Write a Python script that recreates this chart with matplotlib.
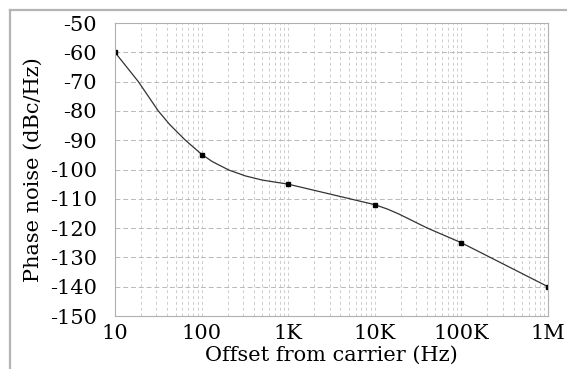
import matplotlib
matplotlib.use("Agg")
import matplotlib.pyplot as plt
from matplotlib.lines import Line2D
from matplotlib.ticker import FixedLocator, LogLocator, NullFormatter

plt.rcParams["font.family"] = ["DejaVu Serif"]

# ====== 数据 ======
# 标注点（方块）
offset_hz = [10, 100, 1e3, 1e4, 1e5, 1e6]
noise_dbc = [-60, -95, -105, -112, -125, -140]

# 曲线走向
curve_hz = [10, 18.6, 31.6, 43, 65, 100, 133, 207, 322, 502, 1e3,
            1e4, 1.4e4, 1.9e4, 4.05e4, 1e5, 1e6]
curve_dbc = [-60, -70, -80, -84.7, -90, -94.8, -97.3, -100.2, -102.2, -103.6, -105,
             -112, -113.5, -115.2, -120, -125, -140]

x_ticks = [10, 100, 1e3, 1e4, 1e5, 1e6]
x_labels = ["10", "100", "1K", "10K", "100K", "1M"]
y_ticks = list(range(-150, -49, 10))

fig = plt.figure(figsize=(5.67, 3.69), dpi=100)
ax = fig.add_axes([0.2028, 0.1436, 0.7637, 0.7940])

ax.plot(curve_hz, curve_dbc, color="#333333", linewidth=0.9)
ax.plot(offset_hz, noise_dbc, linestyle="none", marker="s", markersize=3,
        color="black")

ax.set_xscale("log")
ax.set_xlim(10, 1e6)
ax.set_ylim(-150, -50)

ax.xaxis.set_major_locator(FixedLocator(x_ticks))
ax.set_xticklabels(x_labels)
ax.xaxis.set_minor_locator(LogLocator(base=10, subs=range(2, 10), numticks=20))
ax.xaxis.set_minor_formatter(NullFormatter())
ax.set_yticks(y_ticks)
ax.set_yticklabels([str(v) for v in y_ticks])

ax.tick_params(axis="both", which="both", length=0, labelsize=15)
ax.tick_params(axis="y", pad=13)
ax.tick_params(axis="x", pad=6)

ax.grid(True, which="both", axis="x", linestyle=(0, (3, 3)), color="#cccccc",
        linewidth=0.7)
ax.grid(True, which="major", axis="y", linestyle=(0, (5, 3)), color="#b8b8b8",
        linewidth=0.7)
ax.set_axisbelow(True)
for s in ax.spines.values():
    s.set_color("#b0b0b0")
    s.set_linewidth(0.8)

ax.set_ylabel("Phase noise (dBc/Hz)", fontsize=15, labelpad=5)
ax.set_xlabel("Offset from carrier (Hz)", fontsize=15, labelpad=2)

# 扫描图外框（上、左）
fig.add_artist(Line2D([10 / 567, 1], [1 - 10 / 369, 1 - 10 / 369],
                      transform=fig.transFigure, color="#b4b4b4", linewidth=1.6))
fig.add_artist(Line2D([10 / 567, 10 / 567], [0, 1 - 10 / 369],
                      transform=fig.transFigure, color="#b4b4b4", linewidth=1.6))

fig.savefig("out.png", dpi=100)
plt.close()
